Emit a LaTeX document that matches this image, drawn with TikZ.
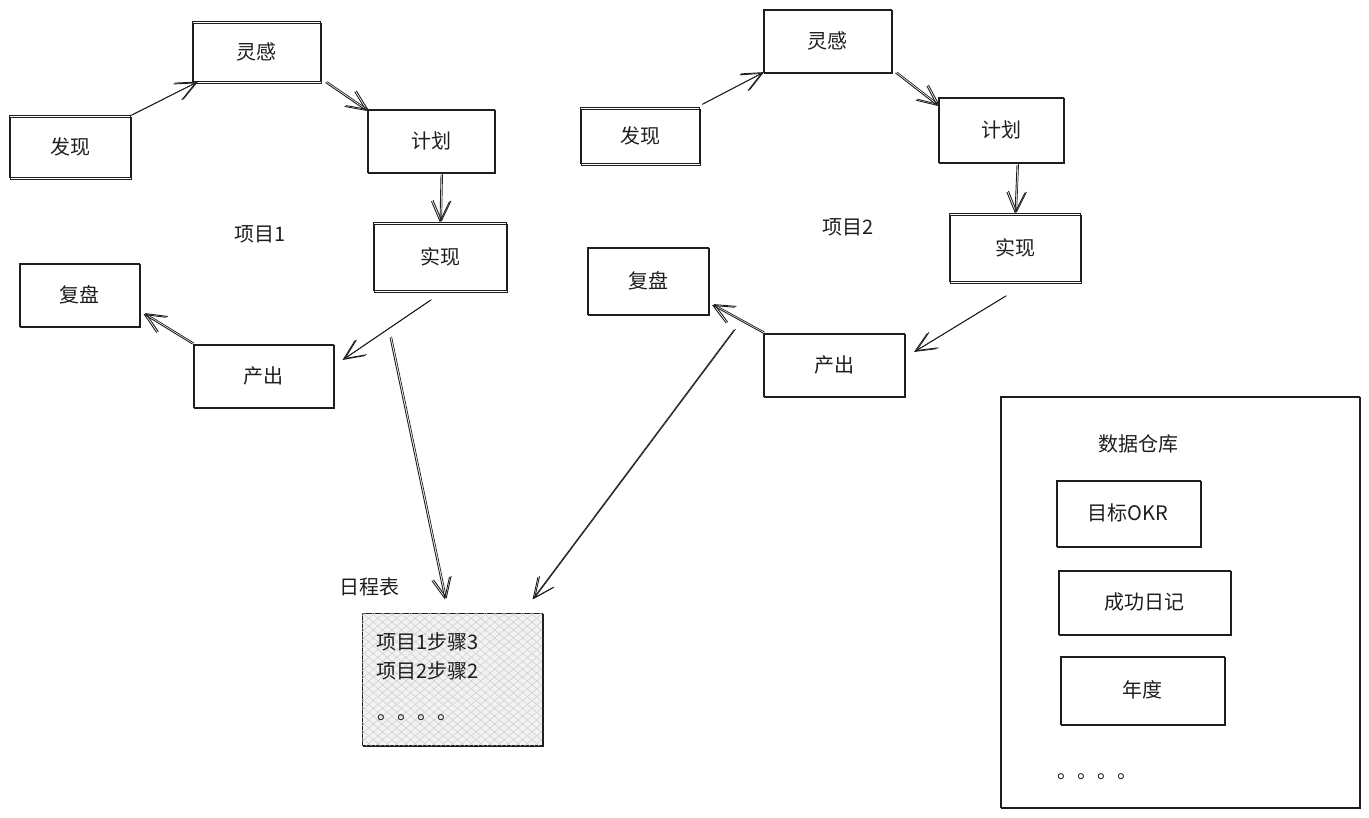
\documentclass[tikz,border=0pt]{standalone}
\usepackage{fontspec}
\setmainfont{Noto Sans CJK SC}
\usetikzlibrary{arrows.meta,patterns.meta}
\definecolor{ink}{HTML}{1E1E1E}
\tikzset{
  box/.style={draw=ink, line width=1pt, inner sep=0pt, text=ink,
    preaction={draw=ink, line width=0.7pt, transform canvas={shift={(1.3pt,-1.1pt)}}}},
  lbl/.style={inner sep=0pt, text=ink},
  arr/.style={draw=ink, line width=0.9pt, -{Straight Barb[length=20pt,width=18pt,line width=0.9pt]},
    preaction={draw=ink, line width=0.7pt, transform canvas={shift={(1.6pt,0.9pt)}}}},
}
\begin{document}
\begin{tikzpicture}[x=1pt,y=-1pt,font=\fontsize{20}{24}\selectfont]
\useasboundingbox (0,0) rectangle (1369,818);
% project 1
\node[box, minimum width=128, minimum height=60] (l1) at (256,52) {灵感};
\node[box, minimum width=121, minimum height=62] (f1) at (70,147) {发现};
\node[box, minimum width=127, minimum height=63] (j1) at (431,141) {计划};
\node[box, minimum width=133, minimum height=68] (s1) at (440,257) {实现};
\node[box, minimum width=120, minimum height=63] (p1) at (79,295) {复盘};
\node[box, minimum width=140, minimum height=63] (c1) at (263,376) {产出};
\node[lbl] (t1) at (260,234) {项目1};
% project 2
\node[box, minimum width=128, minimum height=63] (l2) at (827,41) {灵感};
\node[box, minimum width=119, minimum height=56] (f2) at (640,136) {发现};
\node[box, minimum width=125, minimum height=65] (j2) at (1001,130) {计划};
\node[box, minimum width=131, minimum height=68] (s2) at (1015,248) {实现};
\node[box, minimum width=121, minimum height=67] (p2) at (648,281) {复盘};
\node[box, minimum width=141, minimum height=63] (c2) at (834,365) {产出};
\node[lbl] (t2) at (848,227) {项目2};
% schedule
\node[lbl] (st) at (369,587) {日程表};
\node[box, fill=gray!10, minimum width=180, minimum height=132,
  postaction={pattern={Lines[angle=40,distance=6pt,line width=0.5pt]}, pattern color=gray!40},
  postaction={pattern={Lines[angle=-40,distance=6pt,line width=0.5pt]}, pattern color=gray!40}] (sched) at (452,679) {};
\node[lbl, anchor=west] (sa) at (376,642) {项目1步骤3};
\node[lbl, anchor=west] (sb) at (376,671) {项目2步骤2};
\node[lbl, anchor=west] (sc) at (377,718) {。。。。};
% warehouse
\node[box, minimum width=359, minimum height=411] (wh) at (1180,602) {};
\node[lbl] (wt) at (1138,444) {数据仓库};
\node[box, minimum width=144, minimum height=66] (okr) at (1128,513) {目标OKR};
\node[box, minimum width=172, minimum height=64] (diary) at (1144,602) {成功日记};
\node[box, minimum width=164, minimum height=68] (year) at (1142,690) {年度};
\node[lbl, anchor=west] (wd) at (1057,777) {。。。。};
% arrows project 1
\draw[arr] (f1.north east) -- ([xshift=5pt]l1.south west);
\draw[arr] ([xshift=5pt]l1.south east) -- ([yshift=-2pt]j1.north west);
\draw[arr] ([xshift=10pt,yshift=-2pt]j1.south) -- (s1.north);
\draw[arr] ([xshift=-10pt,yshift=-9pt]s1.south) -- ([xshift=9pt,yshift=16pt]c1.east);
\draw[arr] (c1.north west) -- ([xshift=4pt,yshift=13pt]p1.south east);
\draw[arr] ([xshift=-50pt,yshift=-46pt]s1.south) -- ([xshift=-7pt,yshift=13pt]sched.north);
% arrows project 2
\draw[arr] ([xshift=2pt,yshift=3pt]f2.north east) -- (l2.south west);
\draw[arr] ([xshift=4pt]l2.south east) -- ([yshift=-9pt]j2.north west);
\draw[arr] ([xshift=16pt,yshift=-2pt]j2.south) -- (s2.north);
\draw[arr] ([xshift=-10pt,yshift=-14pt]s2.south) -- ([xshift=9pt,yshift=13pt]c2.east);
\draw[arr] (c2.north west) -- ([xshift=3pt,yshift=-24pt]p2.east);
\draw[arr] ([xshift=25pt,yshift=-49pt]p2.east) -- ([xshift=-10pt,yshift=13pt]sched.north east);
\end{tikzpicture}
\end{document}
